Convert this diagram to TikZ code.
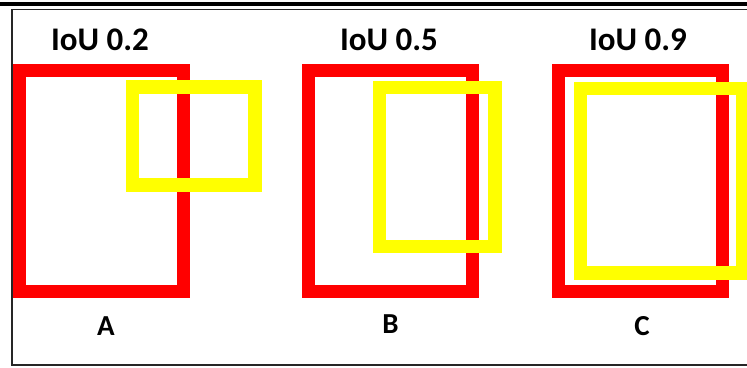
\documentclass[tikz,border=0pt]{standalone}
\usepackage{fontspec}
\setmainfont{Carlito}
\definecolor{boxred}{RGB}{255,0,0}
\definecolor{boxyellow}{RGB}{255,255,0}
\tikzset{
  redbox/.style={draw=boxred,line width=13pt,miter limit=10},
  yellowbox/.style={draw=boxyellow,line width=13.5pt,miter limit=10},
  titletext/.style={anchor=base,inner sep=0pt,font=\fontsize{33}{36}\selectfont\bfseries},
  lettertext/.style={anchor=base,inner sep=0pt,font=\fontsize{29}{32}\selectfont\bfseries},
  framebox/.style={draw=black!85,line width=1.3pt}
}
\begin{document}
\begin{tikzpicture}[x=1pt,y=-1pt]
\useasboundingbox (0,0) rectangle (747,367);
\fill[white] (0,0) rectangle (747,367);
% top rule and frame
\fill[black] (0,1.5) rectangle (747,6);
\draw[framebox] (12,9.7) rectangle (752,365);
% titles
\node[titletext] (t1) at (100,50) {IoU 0.2};
\node[titletext] (t2) at (389,50) {IoU 0.5};
\node[titletext] (t3) at (638,50) {IoU 0.9};
% box A
\draw[redbox] (19.5,70.5) rectangle (183.5,291);
\draw[yellowbox] (132.5,87) rectangle (255,185);
% box B
\draw[redbox] (308.3,70.5) rectangle (472.3,291);
\draw[yellowbox] (379.7,87.5) rectangle (495,246.5);
% box C
\draw[redbox] (558,70.5) rectangle (722.5,291);
\draw[yellowbox] (580.3,88.7) rectangle (742.5,273);
% letters
\node[lettertext] (la) at (106,335) {A};
\node[lettertext] (lb) at (390.5,333) {B};
\node[lettertext] (lc) at (642,335) {C};
\end{tikzpicture}
\end{document}
